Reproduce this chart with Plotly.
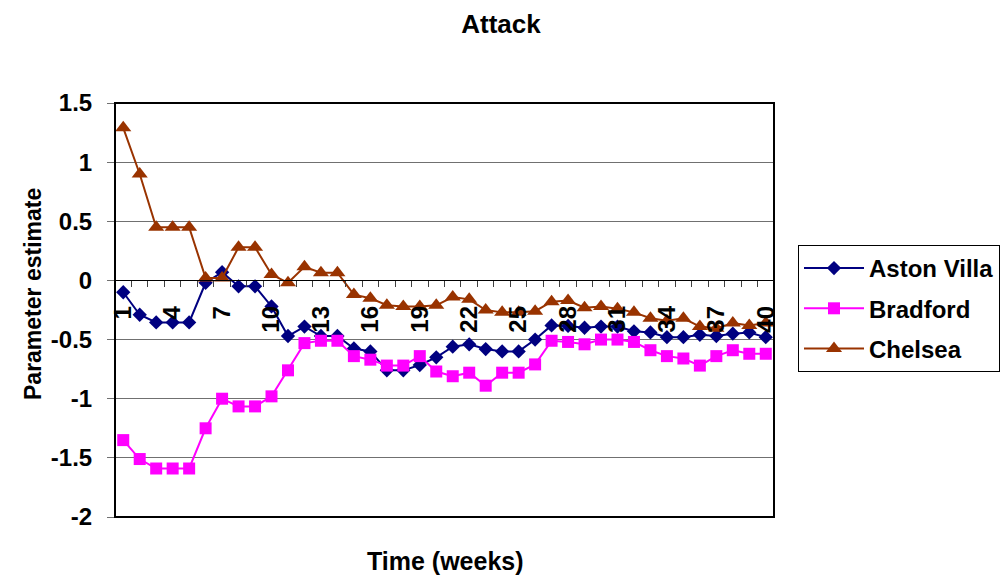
import plotly.graph_objects as go

# Weekly attack parameter estimates
weeks = list(range(1, 41))

aston_villa = [-0.10, -0.29, -0.355, -0.355, -0.355, -0.02, 0.07, -0.05, -0.05, -0.22,
               -0.47, -0.39, -0.47, -0.47, -0.575, -0.60, -0.76, -0.76, -0.715, -0.65,
               -0.56, -0.54, -0.58, -0.60, -0.60, -0.50, -0.38, -0.385, -0.40, -0.39,
               -0.39, -0.43, -0.44, -0.48, -0.48, -0.46, -0.47, -0.45, -0.44, -0.48]

bradford = [-1.35, -1.51, -1.59, -1.59, -1.59, -1.25, -1.00, -1.065, -1.065, -0.98,
            -0.76, -0.53, -0.51, -0.51, -0.64, -0.67, -0.72, -0.72, -0.64, -0.77,
            -0.81, -0.78, -0.89, -0.78, -0.78, -0.71, -0.51, -0.52, -0.54, -0.50,
            -0.50, -0.52, -0.59, -0.64, -0.66, -0.72, -0.64, -0.59, -0.62, -0.62]

chelsea = [1.29, 0.90, 0.45, 0.45, 0.45, 0.02, 0.02, 0.28, 0.28, 0.05,
           -0.02, 0.115, 0.065, 0.065, -0.12, -0.15, -0.21, -0.22, -0.22, -0.21,
           -0.14, -0.16, -0.25, -0.27, -0.27, -0.26, -0.18, -0.17, -0.23, -0.22,
           -0.24, -0.27, -0.32, -0.34, -0.32, -0.39, -0.405, -0.36, -0.38, -0.36]

x_tick_vals = list(range(1, 41, 3))
x_tick_text = [str(v) for v in x_tick_vals]
y_tick_vals = [1.5, 1, 0.5, 0, -0.5, -1, -1.5, -2]
y_tick_text = ["1.5", "1", "0.5", "0", "-0.5", "-1", "-1.5", "-2"]

FONT = "Arial, 'Liberation Sans', sans-serif"

fig = go.Figure()
fig.add_trace(go.Scatter(
    x=weeks, y=aston_villa, name="Aston Villa", mode="lines+markers", legendgroup="a",
    line=dict(color="#000080", width=2),
    marker=dict(symbol="diamond", size=11, color="#000080"),
))
fig.add_trace(go.Scatter(
    x=weeks, y=bradford, name="Bradford", mode="lines+markers", legendgroup="b",
    line=dict(color="#FF00FF", width=2),
    marker=dict(symbol="square", size=12, color="#FF00FF"),
))
fig.add_trace(go.Scatter(
    x=weeks, y=chelsea, name="Chelsea", mode="lines+markers", legendgroup="c",
    line=dict(color="#993300", width=2),
    marker=dict(symbol="triangle-up", size=14, color="#993300"),
))

y_min, y_max = -2, 1.5

fig.update_layout(
    width=1006, height=578,
    margin=dict(l=115, r=232, t=103, b=61, autoexpand=False),
    paper_bgcolor="white", plot_bgcolor="white",
    font=dict(family=FONT, color="black"),
    title=dict(text="<b>Attack</b>", font=dict(size=26, family=FONT),
               x=0.498, xref="container", xanchor="center",
               y=1 - 24 / 578, yref="container", yanchor="middle"),
    xaxis=dict(
        range=[0.5, 40.5], tickmode="array", tickvals=x_tick_vals, ticktext=x_tick_text,
        tickangle=-90, anchor="free", position=(0 - y_min) / (y_max - y_min),
        showline=True, linecolor="black", linewidth=1, showgrid=False, zeroline=False,
        ticks="outside", ticklen=6, tickcolor="rgba(0,0,0,0)",
        ticklabelstandoff=9,
        tickfont=dict(size=24, family=FONT, weight="bold"),
        minor=dict(tick0=0.5, dtick=1, ticks="outside", ticklen=6,
                   tickcolor="#404040", tickwidth=1, showgrid=False),
    ),
    yaxis=dict(
        range=[y_min, y_max], tickmode="array", tickvals=y_tick_vals, ticktext=y_tick_text,
        showgrid=True, gridcolor="#707070", gridwidth=1, zeroline=False,
        showline=False, ticks="outside", ticklen=7, tickcolor="#707070",
        ticklabelstandoff=10,
        tickfont=dict(size=24, family=FONT, weight="bold"),
    ),
    legend=dict(
        x=(798 - 115) / 659, y=(517 - 245) / 414, xanchor="left", yanchor="top",
        bordercolor="black", borderwidth=1, bgcolor="white",
        font=dict(size=24, family=FONT, weight="bold"),
        tracegroupgap=6, itemwidth=60,
    ),
    showlegend=True,
)

# plot-area frame
fig.add_shape(type="rect", xref="paper", yref="paper", x0=0, x1=1, y0=0, y1=1,
              line=dict(color="black", width=2), layer="above")

fig.add_annotation(text="<b>Parameter estimate</b>", xref="paper", yref="paper",
                   x=(33 - 115) / 659, y=(517 - 294) / 414, textangle=-90,
                   xanchor="center", yanchor="middle", showarrow=False,
                   font=dict(size=23, family=FONT))
fig.add_annotation(text="<b>Time (weeks)</b>", xref="paper", yref="paper",
                   x=(445 - 115) / 659, y=(517 - 561) / 414, xanchor="center",
                   yanchor="middle", showarrow=False,
                   font=dict(size=25, family=FONT))

fig.write_html("out.html")
